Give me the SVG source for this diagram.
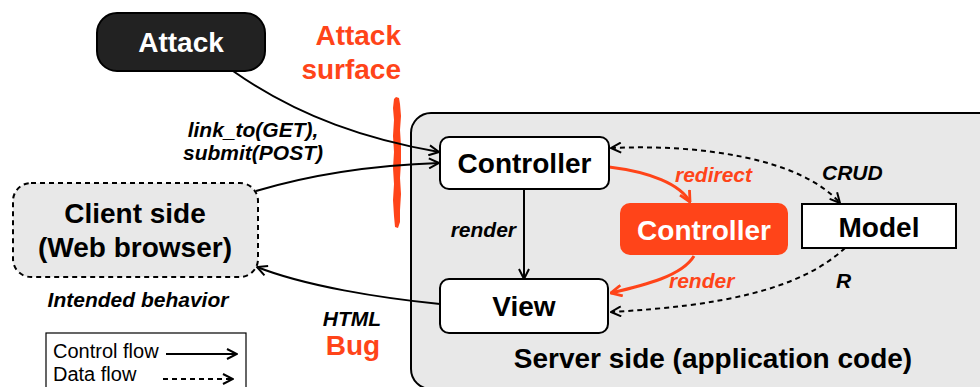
<svg xmlns="http://www.w3.org/2000/svg" width="980" height="387" viewBox="0 0 980 387">
  <style>
    text { font-family: "Liberation Sans", Arial, sans-serif; }
    .big { font-size: 28px; font-weight: bold; }
    .lbl { font-size: 21px; font-weight: bold; font-style: italic; }
    .leg { font-size: 20px; }
    .red { fill: #ff4419; }
    .box { fill: #ffffff; stroke: #000000; stroke-width: 2; }
    .ctl { fill: none; stroke: #000000; stroke-width: 2; marker-end: url(#arr); }
    .dat { fill: none; stroke: #000000; stroke-width: 2; stroke-dasharray: 5 4; marker-end: url(#arr); }
    .rctl { fill: none; stroke: #ff4419; stroke-width: 3; marker-end: url(#arrRed); }
  </style>
  <defs>
    <marker id="arr" viewBox="0 0 12 12" refX="11" refY="6" markerWidth="12" markerHeight="12" markerUnits="userSpaceOnUse" orient="auto-start-reverse">
      <path d="M1,1 L11,6 L1,11" fill="none" stroke="#000" stroke-width="2" stroke-dasharray="none"/>
    </marker>
    <marker id="arrRed" viewBox="0 0 12 12" refX="11" refY="6" markerWidth="13" markerHeight="13" markerUnits="userSpaceOnUse" orient="auto">
      <path d="M1,1 L11,6 L1,11" fill="none" stroke="#ff4419" stroke-width="2.6"/>
    </marker>
  </defs>

  <!-- server-side container (runs off the right and bottom edges) -->
  <g id="server">
    <rect x="411" y="113" width="600" height="276" rx="20" fill="#e8e8e8" stroke="#000" stroke-width="2"/>
    <text class="big" x="713" y="368" text-anchor="middle">Server side (application code)</text>
  </g>

  <!-- attack surface marker: hand-drawn red stroke -->
  <g id="attack-surface">
    <path d="M394,99 L396,97 L399,98 L400,104 L401,116 L400,130 L401,146 L401,162 L400,178 L401,194 L400,210 L400,222 L398,228 L395,227 L394,216 L393,200 L394,184 L393,168 L394,152 L393,136 L394,120 L393,108 Z" fill="#ff4419"/>
    <text class="big red" x="401" y="45" text-anchor="end">Attack</text>
    <text class="big red" x="401" y="79" text-anchor="end">surface</text>
  </g>

  <!-- connectors -->
  <g id="connectors">
    <path class="ctl" d="M233,71 C300,118 370,140 439,152"/>
    <path class="ctl" d="M256,191 C320,172 380,165 439,163"/>
    <path class="ctl" d="M440,304 C380,298 305,286 257,267"/>
    <path class="ctl" d="M524,189 L524,279"/>
    <path class="dat" style="marker-start:url(#arr)" d="M611,148 C700,144 800,158 840,203"/>
    <path class="dat" d="M845,248 C800,290 720,306 611,312"/>
    <path class="rctl" d="M609,167 C650,172 680,184 690,202"/>
    <path class="rctl" d="M694,256 C682,276 645,285 611,293"/>
  </g>

  <!-- connector labels -->
  <g id="labels">
    <text class="lbl" x="253" y="137" text-anchor="middle">link_to(GET),</text>
    <text class="lbl" x="253" y="160" text-anchor="middle">submit(POST)</text>
    <text class="lbl" x="516" y="237" text-anchor="end">render</text>
    <text class="lbl red" x="675" y="182">redirect</text>
    <text class="lbl red" x="669" y="288">render</text>
    <text class="lbl" x="822" y="180">CRUD</text>
    <text class="lbl" x="836" y="288">R</text>
    <text class="lbl" x="138" y="307" text-anchor="middle">Intended behavior</text>
    <text class="lbl" x="352" y="326" text-anchor="middle">HTML</text>
    <text class="big red" x="353" y="355" text-anchor="middle">Bug</text>
  </g>

  <!-- nodes -->
  <g id="attack">
    <rect x="97" y="13" width="168" height="58" rx="20" fill="#222222" stroke="#000" stroke-width="2"/>
    <text class="big" x="181" y="52" text-anchor="middle" fill="#ffffff">Attack</text>
  </g>

  <g id="client">
    <rect x="13" y="183" width="245" height="94" rx="18" fill="#e8e8e8" stroke="#000" stroke-width="2" stroke-dasharray="5 4"/>
    <text class="big" x="135" y="223" text-anchor="middle">Client side</text>
    <text class="big" x="135" y="257" text-anchor="middle">(Web browser)</text>
  </g>

  <g id="controller">
    <rect class="box" x="440" y="137" width="169" height="52" rx="9"/>
    <text class="big" x="524.5" y="173" text-anchor="middle">Controller</text>
  </g>

  <g id="controller-redirect">
    <rect x="620" y="203" width="168" height="52" rx="10" fill="#ff4419"/>
    <text class="big" x="704" y="240" text-anchor="middle" fill="#ffffff">Controller</text>
  </g>

  <g id="model">
    <rect class="box" x="802" y="204" width="154" height="44"/>
    <text class="big" x="879" y="237" text-anchor="middle">Model</text>
  </g>

  <g id="view">
    <rect class="box" x="440" y="279" width="168" height="54" rx="9"/>
    <text class="big" x="524" y="316" text-anchor="middle">View</text>
  </g>

  <!-- legend -->
  <g id="legend">
    <rect x="46" y="333" width="200" height="60" fill="#ffffff" stroke="#000" stroke-width="1.2"/>
    <text class="leg" x="53" y="358">Control flow</text>
    <path class="ctl" d="M166,354 L237,354"/>
    <text class="leg" x="53" y="381">Data flow</text>
    <path class="dat" d="M163,379 L233,379"/>
  </g>
</svg>
